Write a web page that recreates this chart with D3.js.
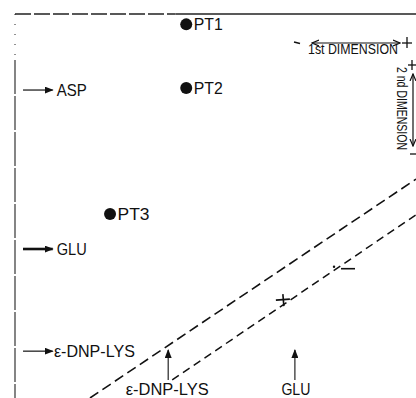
<!DOCTYPE html>
<html>
<head>
<meta charset="utf-8">
<script src="https://cdn.jsdelivr.net/npm/d3@7"></script>
<style>
  body { margin: 0; background: #fff; }
  svg { display: block; font-family: "Liberation Sans", Arial, sans-serif; }
</style>
</head>
<body>
<svg></svg>
<script>
// spots on the map (units: % of plate, 1st dim -> x, 2nd dim -> y)
const spotNames = ["PT1", "PT2", "PT3"];
const spotX = [42.7, 42.7, 23.7];
const spotY = [2.7, 19.3, 52.1];

// marker amino acids
const rowStandards = ["ASP", "GLU", "ε-DNP-LYS"];
const rowY = [19.8, 61.2, 87.8];
const colStandards = ["ε-DNP-LYS", "GLU"];
const colX = [38.2, 69.8];

// dashed boundary of the origin streak
const upperEdgeX = [18.7, 100];
const upperEdgeY = [100, 43];
const lowerEdgeX = [39.2, 100];
const lowerEdgeY = [95.3, 52.3];

const chargeLabels = ["+", "-"];
const chargeX = [66.8, 82.3];
const chargeY = [74.5, 66.2];

const svg = d3.select("svg");
const width = 416;
const height = 398;
svg.attr("width", width).attr("height", height);

const margin = { left: 15, top: 14, right: 0, bottom: 0 };

const xScale = d3.scaleLinear().domain([0, 100]).range([margin.left, width - margin.right]);
const yScale = d3.scaleLinear().domain([0, 100]).range([margin.top, height - margin.bottom]);

const ink = "#111";

const defs = svg.append("defs");
defs.append("marker")
  .attr("id", "head")
  .attr("markerUnits", "userSpaceOnUse")
  .attr("markerWidth", 9).attr("markerHeight", 7)
  .attr("refX", 8).attr("refY", 3.5)
  .attr("orient", "auto")
  .append("path").attr("d", "M0,0L9,3.5L0,7Z").attr("fill", ink);
defs.append("marker")
  .attr("id", "open")
  .attr("markerUnits", "userSpaceOnUse")
  .attr("markerWidth", 8).attr("markerHeight", 8)
  .attr("refX", 7).attr("refY", 4)
  .attr("orient", "auto-start-reverse")
  .append("path").attr("d", "M0,1L7,4L0,7").attr("fill", "none")
  .attr("stroke", ink).attr("stroke-width", 1.2);

// frame (plate edges)
const frame = svg.append("g").attr("stroke", "#222").attr("fill", "none");
frame.append("line")
  .attr("x1", xScale(0)).attr("x2", xScale(40))
  .attr("y1", yScale(0)).attr("y2", yScale(0))
  .attr("stroke-width", 1.4).attr("stroke-dasharray", "16,3");
frame.append("line")
  .attr("x1", xScale(40)).attr("x2", xScale(100))
  .attr("y1", yScale(0)).attr("y2", yScale(0))
  .attr("stroke-width", 1.4);
frame.append("line")
  .attr("x1", xScale(0)).attr("x2", xScale(0))
  .attr("y1", yScale(0)).attr("y2", yScale(12))
  .attr("stroke-width", 1).attr("stroke-dasharray", "1,9");
frame.append("line")
  .attr("x1", xScale(0)).attr("x2", xScale(0))
  .attr("y1", yScale(12)).attr("y2", yScale(100))
  .attr("stroke-width", 1.1).attr("stroke-dasharray", "34,2");

// dashed streak edges
const line = d3.line().x((d) => xScale(d[0])).y((d) => yScale(d[1]));
svg.append("path")
  .attr("d", line(d3.zip(upperEdgeX, upperEdgeY)))
  .attr("fill", "none").attr("stroke", ink)
  .attr("stroke-width", 1.6).attr("stroke-dasharray", "10,5");
svg.append("path")
  .attr("d", line(d3.zip(lowerEdgeX, lowerEdgeY)))
  .attr("fill", "none").attr("stroke", ink)
  .attr("stroke-width", 1.5).attr("stroke-dasharray", "8,5");

// + / - signs on the lower edge
const charges = svg.append("g").attr("stroke", ink).attr("stroke-width", 1.6);
chargeLabels.forEach((c, i) => {
  const cx = xScale(chargeX[i]);
  const cy = yScale(chargeY[i]);
  if (c === "+") {
    charges.append("line").attr("x1", cx - 7).attr("x2", cx + 7).attr("y1", cy).attr("y2", cy - 1);
    charges.append("line").attr("x1", cx).attr("x2", cx + 1).attr("y1", cy - 6).attr("y2", cy + 6);
  } else {
    charges.append("line").attr("x1", cx - 4).attr("x2", cx + 10).attr("y1", cy + 0.5).attr("y2", cy + 0.5);
    charges.append("circle").attr("cx", cx - 11).attr("cy", cy - 1.5).attr("r", 1.2)
      .attr("fill", ink).attr("stroke", "none");
  }
});

// spots
const spots = svg.append("g");
spots.selectAll("circle")
  .data(spotNames)
  .enter()
  .append("circle")
  .attr("cx", (d, i) => xScale(spotX[i]))
  .attr("cy", (d, i) => yScale(spotY[i]))
  .attr("r", 6)
  .attr("fill", ink);
spots.selectAll("text")
  .data(spotNames)
  .enter()
  .append("text")
  .attr("x", (d, i) => xScale(spotX[i]) + 7.5)
  .attr("y", (d, i) => yScale(spotY[i]) + 6)
  .attr("font-size", 17)
  .attr("fill", ink)
  .attr("textLength", (d, i) => (i === 2 ? 32 : 29))
  .attr("lengthAdjust", "spacingAndGlyphs")
  .text((d) => d);

// standards marked along the 2nd dimension (left)
const rows = svg.append("g");
rows.selectAll("line")
  .data(rowStandards)
  .enter()
  .append("line")
  .attr("x1", xScale(2))
  .attr("x2", xScale(9.4))
  .attr("y1", (d, i) => yScale(rowY[i]))
  .attr("y2", (d, i) => yScale(rowY[i]))
  .attr("stroke", ink)
  .attr("stroke-width", (d) => (d === "GLU" ? 2.6 : 1.2))
  .attr("marker-end", "url(#head)");
rows.selectAll("text")
  .data(rowStandards)
  .enter()
  .append("text")
  .attr("x", (d, i) => xScale(i === 2 ? 9.7 : 10.4))
  .attr("y", (d, i) => yScale(rowY[i]) + 6)
  .attr("font-size", 17)
  .attr("fill", ink)
  .attr("textLength", (d) => (d.length > 3 ? 81 : 30))
  .attr("lengthAdjust", "spacingAndGlyphs")
  .text((d) => d);

// standards marked along the 1st dimension (bottom)
const cols = svg.append("g");
cols.selectAll("line")
  .data(colStandards)
  .enter()
  .append("line")
  .attr("x1", (d, i) => xScale(colX[i]))
  .attr("x2", (d, i) => xScale(colX[i]))
  .attr("y1", yScale(95.3))
  .attr("y2", yScale(87.5))
  .attr("stroke", ink)
  .attr("stroke-width", 1.1)
  .attr("marker-end", "url(#head)");
cols.selectAll("text")
  .data(colStandards)
  .enter()
  .append("text")
  .attr("x", (d, i) => xScale(colX[i]) + (i === 0 ? -1 : 1))
  .attr("y", yScale(99.2))
  .attr("text-anchor", "middle")
  .attr("font-size", 16)
  .attr("fill", ink)
  .attr("textLength", (d) => (d.length > 3 ? 83 : 29))
  .attr("lengthAdjust", "spacingAndGlyphs")
  .text((d) => d);

// direction key, top right
const key = svg.append("g").attr("fill", ink);
key.append("line")
  .attr("x1", 312).attr("x2", 400).attr("y1", 43).attr("y2", 43)
  .attr("stroke", ink).attr("stroke-width", 1.2)
  .attr("marker-start", "url(#open)").attr("marker-end", "url(#open)");
key.append("line")
  .attr("x1", 294).attr("x2", 300).attr("y1", 42).attr("y2", 43.5)
  .attr("stroke", ink).attr("stroke-width", 1.3);
key.append("line")
  .attr("x1", 402).attr("x2", 412).attr("y1", 43).attr("y2", 43)
  .attr("stroke", ink).attr("stroke-width", 1.3);
key.append("line")
  .attr("x1", 407).attr("x2", 407).attr("y1", 37).attr("y2", 48)
  .attr("stroke", ink).attr("stroke-width", 1.3);
key.append("text")
  .attr("x", 308).attr("y", 54)
  .attr("font-size", 14)
  .attr("textLength", 90).attr("lengthAdjust", "spacingAndGlyphs")
  .text("1st DIMENSION");

key.append("line")
  .attr("x1", 413).attr("x2", 413).attr("y1", 74).attr("y2", 146)
  .attr("stroke", ink).attr("stroke-width", 1.2)
  .attr("marker-start", "url(#open)").attr("marker-end", "url(#open)");
key.append("line")
  .attr("x1", 408).attr("x2", 416).attr("y1", 65).attr("y2", 65)
  .attr("stroke", ink).attr("stroke-width", 1.3);
key.append("line")
  .attr("x1", 412).attr("x2", 412).attr("y1", 60).attr("y2", 70)
  .attr("stroke", ink).attr("stroke-width", 1.3);
key.append("line")
  .attr("x1", 410).attr("x2", 416).attr("y1", 154).attr("y2", 154)
  .attr("stroke", ink).attr("stroke-width", 1.3);
key.append("text")
  .attr("transform", "translate(397,67) rotate(90)")
  .attr("font-size", 14)
  .attr("textLength", 83).attr("lengthAdjust", "spacingAndGlyphs")
  .text("2 nd DIMENSION");
</script>
</body>
</html>
